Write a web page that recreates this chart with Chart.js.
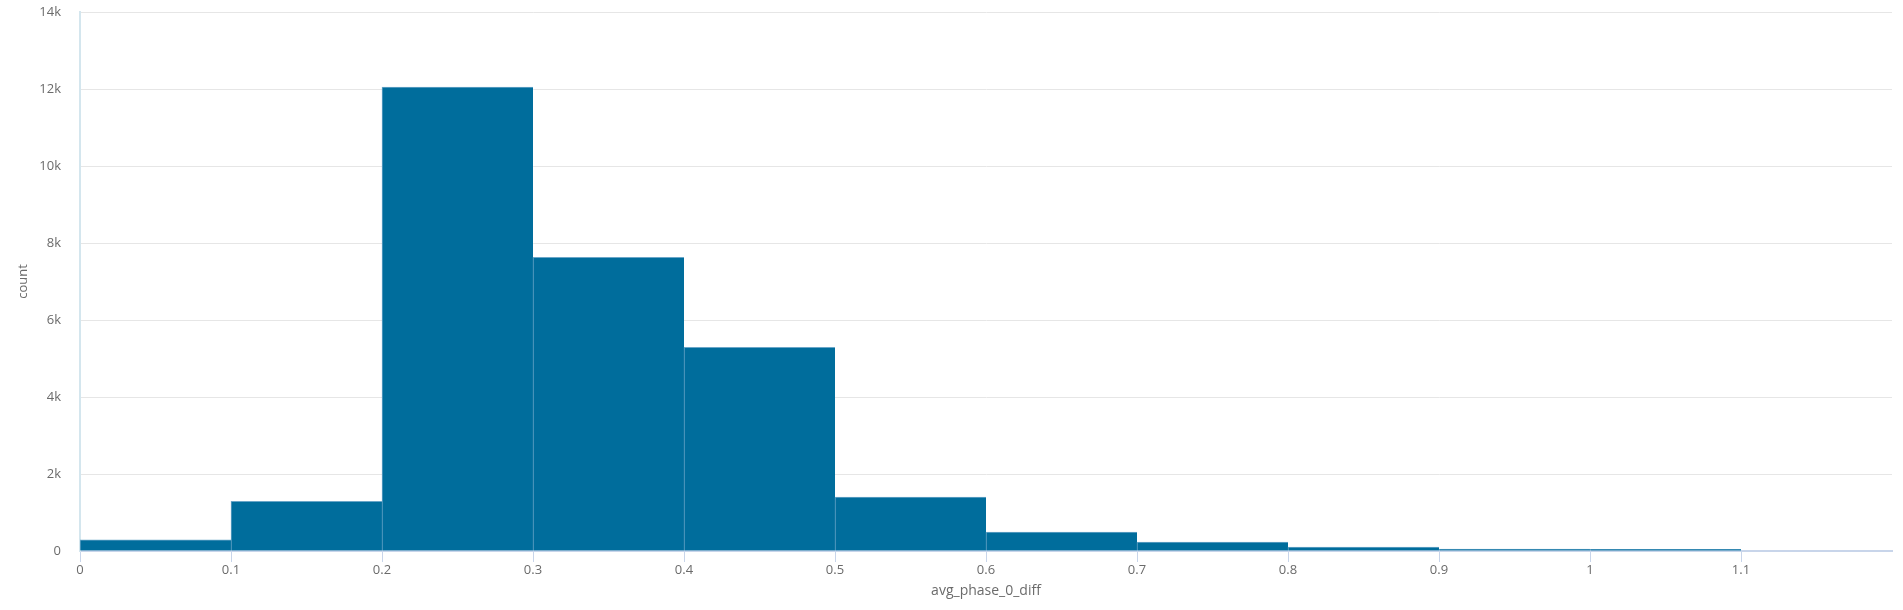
<!DOCTYPE html>
<html>
<head>
<meta charset="utf-8">
<script src="https://cdn.jsdelivr.net/npm/chart.js@4.4.1/dist/chart.umd.min.js"></script>
<style>
  html, body { margin: 0; padding: 0; background: #ffffff; }
  #wrap { width: 1903px; height: 610px; position: relative; }
</style>
</head>
<body>
<div id="wrap"><canvas id="c"></canvas></div>
<script>
// Histogram bins of avg_phase_0_diff (bin width 0.1)
const binStarts = [0, 0.1, 0.2, 0.3, 0.4, 0.5, 0.6, 0.7, 0.8, 0.9, 1.0];
const binCenters = [0.05, 0.15, 0.25, 0.35, 0.45, 0.55, 0.65, 0.75, 0.85, 0.95, 1.05];
const counts = [290, 1290, 12050, 7630, 5290, 1400, 490, 230, 100, 50, 45];
const xTickValues = [0, 0.1, 0.2, 0.3, 0.4, 0.5, 0.6, 0.7, 0.8, 0.9, 1, 1.1];
const yTickValues = [0, 2000, 4000, 6000, 8000, 10000, 12000, 14000];

const points = binCenters.map((c, i) => ({ x: c, y: counts[i] }));
const FONT = "'Open Sans', 'DejaVu Sans', sans-serif";
const labelColor = '#6b6b6b';

new Chart(document.getElementById('c'), {
  type: 'bar',
  data: {
    datasets: [{
      label: 'count',
      data: points,
      backgroundColor: '#006d9c',
      borderColor: '#6aa6c8',
      borderWidth: { top: 1, left: 1, right: 0, bottom: 0 },
      borderSkipped: false,
      barPercentage: 1,
      categoryPercentage: 1
    }]
  },
  options: {
    responsive: true,
    maintainAspectRatio: false,
    animation: false,
    layout: { padding: { top: 12, right: 11, bottom: 0, left: 0 } },
    plugins: { legend: { display: false }, tooltip: { enabled: false } },
    scales: {
      x: {
        type: 'linear',
        min: 0,
        max: 1.2,
        offset: false,
        afterBuildTicks: (s) => { s.ticks = xTickValues.map(v => ({ value: v })); },
        afterFit: (s) => { s.height = 59; },
        grid: {
          display: true,
          drawOnChartArea: false,
          drawTicks: true,
          tickLength: 11,
          color: '#c8d5ea',
          offset: false
        },
        border: { display: true, color: '#c8d5ea', width: 2 },
        ticks: {
          padding: 0,
          color: labelColor,
          font: { family: FONT, size: 13 },
          maxRotation: 0,
          autoSkip: false,
          callback: (v) => String(Math.round(v * 10) / 10)
        },
        title: {
          display: true,
          text: 'avg_phase_0_diff',
          color: labelColor,
          font: { family: FONT, size: 14 },
          padding: { top: 0, bottom: 11 }
        }
      },
      y: {
        type: 'linear',
        min: 0,
        max: 14000,
        afterBuildTicks: (s) => { s.ticks = yTickValues.map(v => ({ value: v })); },
        afterFit: (s) => { s.width = 80; s.paddingTop = 0; s.paddingBottom = 0; },
        grid: {
          color: '#e6e6e6',
          lineWidth: 1,
          drawTicks: false
        },
        border: { display: true, color: '#d4e6ee', width: 2 },
        ticks: {
          padding: 19,
          color: labelColor,
          font: { family: FONT, size: 13 },
          callback: (v) => v === 0 ? '0' : (v / 1000) + 'k'
        },
        title: {
          display: true,
          text: 'count',
          color: labelColor,
          font: { family: FONT, size: 13 },
          padding: { top: 15, bottom: 0 }
        }
      }
    }
  }
});
</script>
</body>
</html>
